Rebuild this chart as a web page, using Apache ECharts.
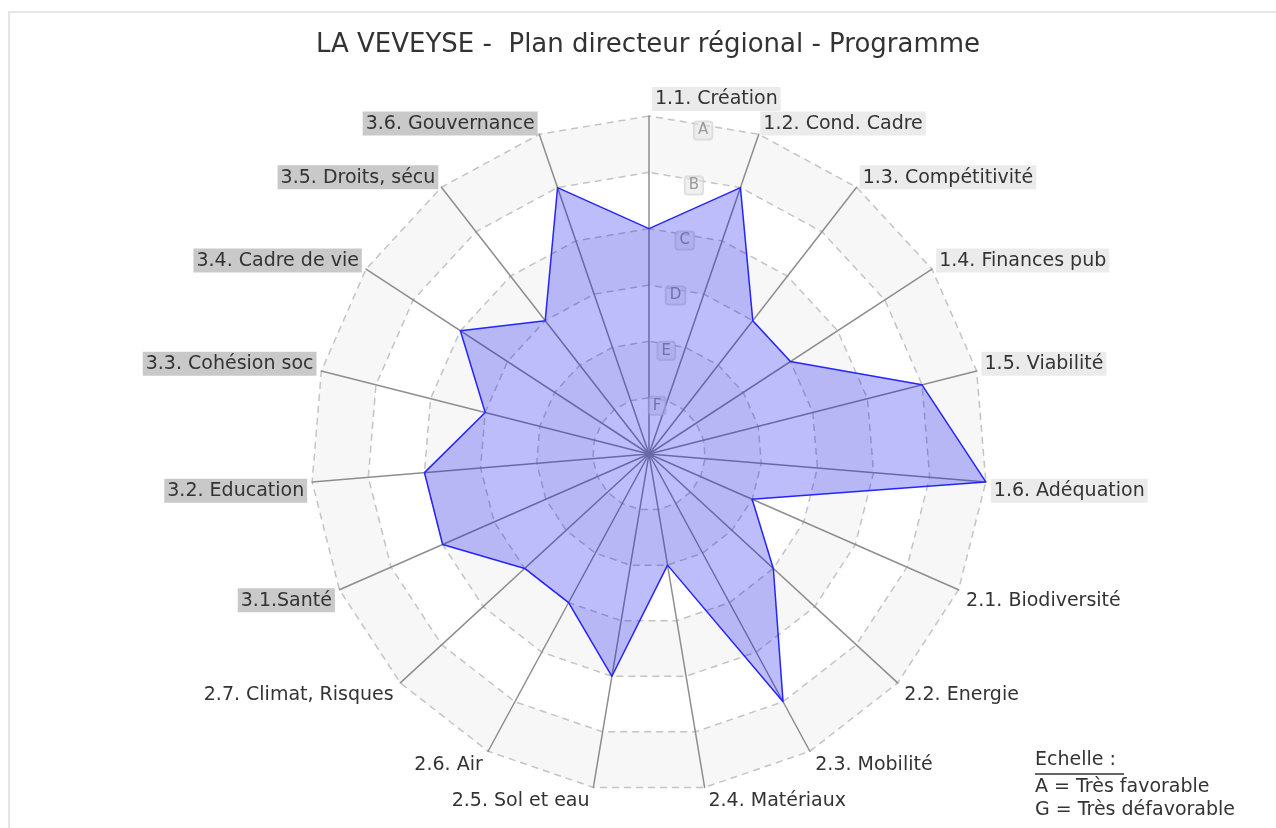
<!DOCTYPE html>
<html>
<head>
<meta charset="utf-8">
<script src="https://cdn.jsdelivr.net/npm/echarts@6/dist/echarts.min.js"></script>
<style>
  html, body { margin: 0; padding: 0; overflow: hidden; background: #fff; }
  .frame {
    position: absolute; left: 8px; top: 11px; width: 1400px; height: 1000px;
    border: 2px solid #e6e6e6;
  }
  #radarChart { position: absolute; left: 0; top: 0; width: 1276px; height: 828px; }
</style>
</head>
<body>
<div class="frame"></div>
<div id="radarChart"></div>
<script>
// critères, dans l'ordre des aiguilles d'une montre depuis le haut
const criteres = [
  "1.1. Création", "1.2. Cond. Cadre", "1.3. Compétitivité", "1.4. Finances pub",
  "1.5. Viabilité", "1.6. Adéquation", "2.1. Biodiversité", "2.2. Energie",
  "2.3. Mobilité", "2.4. Matériaux", "2.5. Sol et eau", "2.6. Air",
  "2.7. Climat, Risques", "3.1.Santé", "3.2. Education", "3.3. Cohésion soc",
  "3.4. Cadre de vie", "3.5. Droits, sécu", "3.6. Gouvernance"
];
// 6 = A (très favorable) ... 0 = G (très défavorable)
const notes = [4, 5, 3, 3, 5, 6, 2, 3, 5, 2, 4, 3, 3, 4, 4, 3, 4, 3, 5];
const echelle = ["F", "E", "D", "C", "B", "A"]; // valeurs 1..6
const noteMax = 6;

const FONT = "DejaVu Sans";
const nameSize = 19;

// largeur du texte pour décaler le libellé du haut
const ctx = document.createElement("canvas").getContext("2d");
ctx.font = nameSize + "px " + FONT;

// echarts place les indicateurs dans le sens inverse des aiguilles
const order = [0].concat(criteres.map((_, i) => i).slice(1).reverse());
const n = criteres.length;

function styleKey(name) {
  if (name.startsWith("1.")) return "g1";
  if (name.startsWith("3.")) return "g3";
  return "g2";
}

const indicators = order.map((i) => ({ name: criteres[i], max: noteMax, min: 0 }));

function fmtName(value) {
  const i = criteres.indexOf(value);
  const theta = (360 * i) / n; // sens horaire depuis le haut
  const key = styleKey(value);
  if (i === 0) return "{sp0|}{" + key + "|" + value + "}";
  if (theta < 90 || theta > 270) return "{" + key + "|" + value + "}\n{spu| }";
  return "{spd| }\n{" + key + "|" + value + "}";
}

const firstW = ctx.measureText(criteres[0]).width + 12;

const chart = echarts.init(document.getElementById("radarChart"));
chart.setOption({
  title: {
    text: "LA VEVEYSE -  Plan directeur régional - Programme",
    left: 643,
    top: 27,
    textAlign: "center",
    textStyle: { fontFamily: FONT, fontSize: 26, fontWeight: "normal", color: "#333" }
  },
  radar: {
    center: [649, 454],
    radius: 338,
    startAngle: 90,
    shape: "polygon",
    splitNumber: 6,
    indicator: indicators,
    nameGap: 5,
    axisName: {
      formatter: fmtName,
      color: "#333",
      fontFamily: FONT,
      fontSize: nameSize,
      rich: {
        g1: { backgroundColor: "#ebebeb", padding: [3, 3, 2, 3], fontFamily: FONT, fontSize: nameSize, color: "#333" },
        g2: { padding: [3, 3, 2, 3], fontFamily: FONT, fontSize: nameSize, color: "#333" },
        g3: { backgroundColor: "#c9c9c9", padding: [3, 3, 2, 3], fontFamily: FONT, fontSize: nameSize, color: "#333" },
        spu: { fontSize: 2, lineHeight: 12, height: 12 },
        spd: { fontSize: 2, lineHeight: 17, height: 17 },
        sp0: { width: firstW, height: 10, fontSize: 2 }
      }
    },
    axisLine: { lineStyle: { color: "#8e8e8e", width: 1.5 } },
    splitLine: { lineStyle: { color: "#c4c4c4", width: 1.5, type: [7, 5] } },
    splitArea: { show: true, areaStyle: { color: ["#ffffff", "#f7f7f7"] } },
    axisLabel: { show: false },
    axisTick: { show: false }
  },
  polar: { center: [649, 454], radius: [49, 328] },
  angleAxis: { type: "value", min: 0, max: 360, startAngle: 80.5, show: false },
  radiusAxis: {
    type: "value",
    min: 1,
    max: 6,
    interval: 1,
    z: 1,
    axisLine: { show: false },
    axisTick: { show: false },
    splitLine: { show: false },
    axisLabel: {
      margin: 0,
      align: "center",
      verticalAlign: "middle",
      formatter: (v) => echelle[v - 1] || "",
      fontFamily: FONT,
      fontSize: 15,
      color: "#9a9a9a",
      backgroundColor: "rgba(228,228,228,0.55)",
      borderColor: "rgba(200,200,200,0.6)",
      borderWidth: 1,
      borderRadius: 3,
      padding: [2, 4, 1, 4]
    }
  },
  graphic: [
    { type: "text", left: 1035, top: 751, style: { text: "Echelle :", fontFamily: FONT, fontSize: 19, fill: "#333" } },
    { type: "line", shape: { x1: 1035, y1: 774, x2: 1124, y2: 774 }, style: { stroke: "#333", lineWidth: 1.5 } },
    { type: "text", left: 1035, top: 778, style: { text: "A = Très favorable", fontFamily: FONT, fontSize: 19, fill: "#333" } },
    { type: "text", left: 1035, top: 801, style: { text: "G = Très défavorable", fontFamily: FONT, fontSize: 19, fill: "#333" } }
  ],
  series: [
    {
      type: "radar",
      symbol: "none",
      lineStyle: { color: "#2b2bff", width: 1.5 },
      areaStyle: { color: "rgba(0,0,245,0.26)", opacity: 1 },
      data: [{ value: order.map((i) => notes[i]), name: "Programme" }]
    }
  ]
});
</script>
</body>
</html>
